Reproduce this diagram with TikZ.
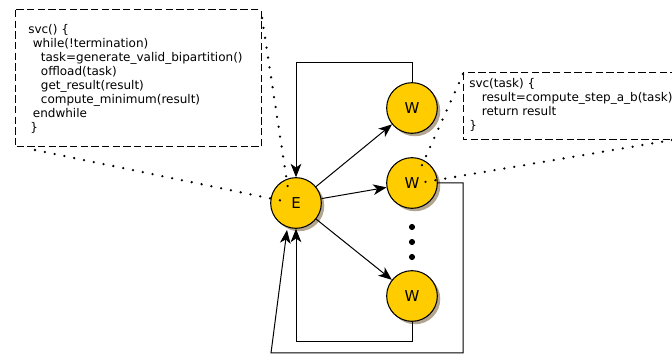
\documentclass[tikz,border=0pt]{standalone}
\usepackage{fontspec}
\setmainfont{DejaVu Sans}
\usetikzlibrary{arrows.meta,shadows}
\definecolor{nodefill}{RGB}{255,204,0}
\definecolor{shadowc}{RGB}{178,166,144}
\begin{document}
\begin{tikzpicture}[x=0.75pt,y=-0.75pt,
  proc/.style={circle,draw=black,line width=0.8pt,fill=nodefill,minimum size=38pt,inner sep=0pt,
    font=\fontsize{11.25pt}{12pt}\selectfont,
    drop shadow={shadow xshift=2.2pt,shadow yshift=-2.2pt,fill=shadowc,opacity=1}},
  conn/.style={draw=black,line width=0.75pt},
  arr/.style={conn,-{Stealth[length=10pt,width=8pt,inset=2.8pt]}},
  note/.style={draw=black,line width=0.75pt,dash pattern=on 5.5pt off 2.5pt},
  codetext/.style={anchor=north west,align=left,inner sep=0pt,font=\fontsize{9pt}{10.5pt}\selectfont},
  dotline/.style={draw=black,line width=1.9pt,line cap=round,dash pattern=on 0pt off 7.5pt}]
\clip (0,0) rectangle (672,356);
% notes
\draw[note] (15,10) rectangle (261,147);
\node[codetext] (code1) at (28,24) {svc() \{\\
\hspace*{3.5pt}while(!termination)\\
\hspace*{9.5pt}task=generate\_valid\_bipartition()\\
\hspace*{9.5pt}offload(task)\\
\hspace*{9.5pt}get\_result(result)\\
\hspace*{9.5pt}compute\_minimum(result)\\
\hspace*{3.5pt}endwhile\\
\hspace*{1.5pt}\}};
\draw[note] (463,73) rectangle (690,140);
\node[codetext] (code2) at (469,78) {svc(task) \{\\
\hspace*{9.5pt}result=compute\_step\_a\_b(task)\\
\hspace*{9.5pt}return result\\
\}};
% nodes
\node[proc] (E) at (296,203) {E};
\node[proc] (W1) at (412,108) {W};
\node[proc] (W2) at (412,183) {W};
\node[proc] (W3) at (412,296) {W};
\foreach \y [count=\i] in {227,242,257} \fill (412,\y) circle (2.3pt) coordinate (d\i);
% coordinates
\coordinate (c1tr) at (262,18);
\coordinate (c1bl) at (35,150);
\coordinate (eA) at (289,195);
\coordinate (eB) at (283,201);
\coordinate (c2tl) at (463,74);
\coordinate (c2br) at (672,140);
\coordinate (wA) at (418,174);
\coordinate (wB) at (425,182);
% dotted associations
\draw[dotline] (c1tr) -- (eA);
\draw[dotline] (c1bl) -- (eB);
\draw[dotline] (c2tl) -- (wA);
\draw[dotline] (c2br) -- (wB);
% arrows
\draw[arr] (E) -- (W1);
\draw[arr] (E) -- (W2);
\draw[arr] (E) -- (W3);
\coordinate (t1) at (412,63);
\coordinate (t2) at (296,63);
\draw[arr] (W1.north) -- (t1) -- (t2) -- (E.north);
\coordinate (b1) at (412,342);
\coordinate (b2) at (296,342);
\draw[arr] (W3.south) -- (b1) -- (b2) -- (E.south);
\coordinate (r1) at (463,183);
\coordinate (r2) at (463,353);
\coordinate (r3) at (271,353);
\coordinate (etip) at (287,230);
\draw[arr] (W2.east) -- (r1) -- (r2) -- (r3) -- (etip);
\end{tikzpicture}
\end{document}
